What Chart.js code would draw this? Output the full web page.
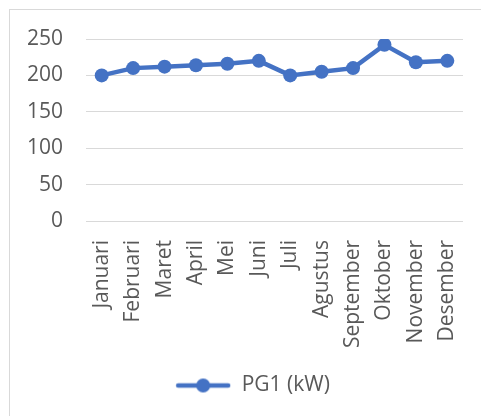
<!DOCTYPE html>
<html>
<head>
<meta charset="utf-8">
<script src="https://cdn.jsdelivr.net/npm/chart.js@4/dist/chart.umd.min.js"></script>
<style>
    html, body { margin: 0; padding: 0; background: #fff; }
    #frame {
        position: absolute; left: 9px; top: 9px;
        width: 472px; height: 407px;
        border-left: 1px solid #d9d9d9;
        border-top: 1px solid #d9d9d9;
    }
    #chart { display: block; }
</style>
</head>
<body>
<div id="frame"><canvas id="chart" width="471" height="406"></canvas></div>
<script>
// Data
const months = ['Januari', 'Februari', 'Maret', 'April', 'Mei', 'Juni', 'Juli',
    'Agustus', 'September', 'Oktober', 'November', 'Desember'];
const pg1Values = [200, 210, 212, 214, 216, 220, 200, 205, 210, 242, 218, 220];
const seriesLabel = 'PG1 (kW)';
const yMin = 0;
const yMax = 250;
const yStep = 50;

const blue = '#4472C4';
const textColor = '#595959';
const gridColor = '#d9d9d9';
const fontSpec = { family: '"Open Sans", "Noto Sans", sans-serif', size: 21 };

// legend sample: line with a marker in the middle
function makeLegendMarker() {
    const c = document.createElement('canvas');
    c.width = 56;
    c.height = 16;
    const g = c.getContext('2d');
    g.strokeStyle = blue;
    g.lineWidth = 4.5;
    g.lineCap = 'round';
    g.beginPath();
    g.moveTo(3, 8);
    g.lineTo(53, 8);
    g.stroke();
    g.fillStyle = blue;
    g.beginPath();
    g.arc(28, 8, 7, 0, Math.PI * 2);
    g.fill();
    return c;
}
const legendMarker = makeLegendMarker();

// nudge the legend a little to the right, like the original
const legendShift = {
    id: 'legendShift',
    afterLayout(chart) {
        if (chart.legend) {
            chart.legend.left += 7;
            chart.legend.right += 7;
        }
    }
};

const ctx = document.getElementById('chart').getContext('2d');
const chart = new Chart(ctx, {
    type: 'line',
    data: {
        labels: months,
        datasets: [{
            label: seriesLabel,
            data: pg1Values,
            borderColor: blue,
            backgroundColor: blue,
            borderWidth: 4.5,
            pointRadius: 7,
            pointHoverRadius: 7,
            pointBorderWidth: 0,
            tension: 0
        }]
    },
    options: {
        responsive: false,
        animation: false,
        layout: { padding: { top: 29, left: 18, right: 18, bottom: 10 } },
        plugins: {
            tooltip: { enabled: false },
            legend: {
                position: 'bottom',
                labels: {
                    color: textColor,
                    font: fontSpec,
                    usePointStyle: true,
                    pointStyleWidth: 56,
                    padding: 10,
                    generateLabels: function(chart) {
                        return chart.data.datasets.map((ds, i) => ({
                            text: ds.label,
                            fontColor: textColor,
                            pointStyle: legendMarker,
                            lineWidth: 0,
                            strokeStyle: 'transparent',
                            fillStyle: 'transparent',
                            datasetIndex: i
                        }));
                    }
                }
            }
        },
        scales: {
            x: {
                offset: true,
                grid: { display: false },
                border: { display: false },
                ticks: {
                    color: textColor,
                    font: fontSpec,
                    minRotation: 90,
                    maxRotation: 90,
                    autoSkip: false,
                    padding: 11
                },
                afterFit: function(scale) {
                    scale.height = 144;
                    scale.paddingLeft = 0;
                    scale.paddingRight = 0;
                }
            },
            y: {
                min: yMin,
                max: yMax,
                grid: { color: gridColor, lineWidth: 1, drawTicks: false },
                border: { display: false },
                ticks: {
                    stepSize: yStep,
                    color: textColor,
                    font: fontSpec,
                    padding: 23
                },
                afterFit: function(scale) {
                    scale.width = 58;
                    scale.paddingTop = 0;
                    scale.paddingBottom = 0;
                }
            }
        }
    },
    plugins: [legendShift]
});
</script>
</body>
</html>
